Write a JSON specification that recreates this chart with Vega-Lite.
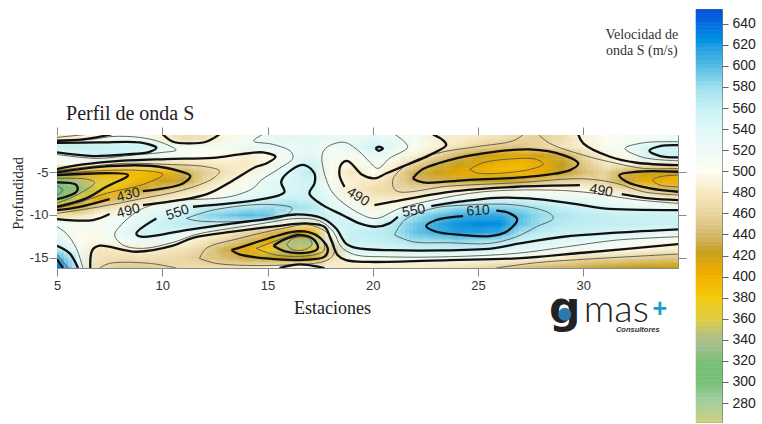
{"$schema":"https://vega.github.io/schema/vega-lite/v6.json","padding":{"left":9,"top":8,"right":5,"bottom":5},"background":"white","config":{"view":{"stroke":null},"concat":{"spacing":8}},
"datasets":{
"grid":[
{"x":5,"y":-1,"v":480},{"x":6,"y":-1,"v":485},{"x":7,"y":-1,"v":495},{"x":8,"y":-1,"v":510},{"x":9,"y":-1,"v":515},{"x":10,"y":-1,"v":490},{"x":11,"y":-1,"v":470},{"x":12,"y":-1,"v":475},{"x":13,"y":-1,"v":495},{"x":14,"y":-1,"v":510},{"x":15,"y":-1,"v":530},{"x":16,"y":-1,"v":535},{"x":17,"y":-1,"v":535},{"x":18,"y":-1,"v":530},{"x":19,"y":-1,"v":525},{"x":20,"y":-1,"v":530},{"x":21,"y":-1,"v":525},{"x":22,"y":-1,"v":510},{"x":23,"y":-1,"v":488},{"x":24,"y":-1,"v":485},{"x":25,"y":-1,"v":480},{"x":26,"y":-1,"v":475},{"x":27,"y":-1,"v":462},{"x":28,"y":-1,"v":458},{"x":29,"y":-1,"v":470},{"x":30,"y":-1,"v":490},{"x":31,"y":-1,"v":500},{"x":32,"y":-1,"v":505},{"x":33,"y":-1,"v":510},{"x":34,"y":-1,"v":515},
{"x":5,"y":-2,"v":560},{"x":6,"y":-2,"v":562},{"x":7,"y":-2,"v":560},{"x":8,"y":-2,"v":558},{"x":9,"y":-2,"v":555},{"x":10,"y":-2,"v":530},{"x":11,"y":-2,"v":508},{"x":12,"y":-2,"v":510},{"x":13,"y":-2,"v":515},{"x":14,"y":-2,"v":525},{"x":15,"y":-2,"v":530},{"x":16,"y":-2,"v":525},{"x":17,"y":-2,"v":530},{"x":18,"y":-2,"v":510},{"x":19,"y":-2,"v":530},{"x":20,"y":-2,"v":552},{"x":21,"y":-2,"v":530},{"x":22,"y":-2,"v":505},{"x":23,"y":-2,"v":492},{"x":24,"y":-2,"v":475},{"x":25,"y":-2,"v":460},{"x":26,"y":-2,"v":452},{"x":27,"y":-2,"v":450},{"x":28,"y":-2,"v":462},{"x":29,"y":-2,"v":478},{"x":30,"y":-2,"v":488},{"x":31,"y":-2,"v":505},{"x":32,"y":-2,"v":518},{"x":33,"y":-2,"v":545},{"x":34,"y":-2,"v":552},
{"x":5,"y":-3,"v":518},{"x":6,"y":-3,"v":535},{"x":7,"y":-3,"v":555},{"x":8,"y":-3,"v":548},{"x":9,"y":-3,"v":530},{"x":10,"y":-3,"v":518},{"x":11,"y":-3,"v":505},{"x":12,"y":-3,"v":500},{"x":13,"y":-3,"v":498},{"x":14,"y":-3,"v":488},{"x":15,"y":-3,"v":505},{"x":16,"y":-3,"v":520},{"x":17,"y":-3,"v":535},{"x":18,"y":-3,"v":508},{"x":19,"y":-3,"v":505},{"x":20,"y":-3,"v":525},{"x":21,"y":-3,"v":510},{"x":22,"y":-3,"v":490},{"x":23,"y":-3,"v":462},{"x":24,"y":-3,"v":440},{"x":25,"y":-3,"v":426},{"x":26,"y":-3,"v":418},{"x":27,"y":-3,"v":412},{"x":28,"y":-3,"v":420},{"x":29,"y":-3,"v":432},{"x":30,"y":-3,"v":465},{"x":31,"y":-3,"v":490},{"x":32,"y":-3,"v":505},{"x":33,"y":-3,"v":548},{"x":34,"y":-3,"v":556},
{"x":5,"y":-4,"v":505},{"x":6,"y":-4,"v":500},{"x":7,"y":-4,"v":488},{"x":8,"y":-4,"v":478},{"x":9,"y":-4,"v":474},{"x":10,"y":-4,"v":472},{"x":11,"y":-4,"v":474},{"x":12,"y":-4,"v":478},{"x":13,"y":-4,"v":484},{"x":14,"y":-4,"v":482},{"x":15,"y":-4,"v":493},{"x":16,"y":-4,"v":530},{"x":17,"y":-4,"v":556},{"x":18,"y":-4,"v":505},{"x":19,"y":-4,"v":495},{"x":20,"y":-4,"v":510},{"x":21,"y":-4,"v":492},{"x":22,"y":-4,"v":460},{"x":23,"y":-4,"v":436},{"x":24,"y":-4,"v":424},{"x":25,"y":-4,"v":412},{"x":26,"y":-4,"v":400},{"x":27,"y":-4,"v":395},{"x":28,"y":-4,"v":405},{"x":29,"y":-4,"v":425},{"x":30,"y":-4,"v":452},{"x":31,"y":-4,"v":478},{"x":32,"y":-4,"v":490},{"x":33,"y":-4,"v":492},{"x":34,"y":-4,"v":488},
{"x":5,"y":-5,"v":425},{"x":6,"y":-5,"v":410},{"x":7,"y":-5,"v":402},{"x":8,"y":-5,"v":395},{"x":9,"y":-5,"v":392},{"x":10,"y":-5,"v":398},{"x":11,"y":-5,"v":435},{"x":12,"y":-5,"v":455},{"x":13,"y":-5,"v":475},{"x":14,"y":-5,"v":490},{"x":15,"y":-5,"v":520},{"x":16,"y":-5,"v":540},{"x":17,"y":-5,"v":565},{"x":18,"y":-5,"v":500},{"x":19,"y":-5,"v":478},{"x":20,"y":-5,"v":500},{"x":21,"y":-5,"v":475},{"x":22,"y":-5,"v":435},{"x":23,"y":-5,"v":422},{"x":24,"y":-5,"v":410},{"x":25,"y":-5,"v":400},{"x":26,"y":-5,"v":392},{"x":27,"y":-5,"v":395},{"x":28,"y":-5,"v":410},{"x":29,"y":-5,"v":425},{"x":30,"y":-5,"v":445},{"x":31,"y":-5,"v":460},{"x":32,"y":-5,"v":435},{"x":33,"y":-5,"v":425},{"x":34,"y":-5,"v":420},
{"x":5,"y":-6,"v":325},{"x":6,"y":-6,"v":345},{"x":7,"y":-6,"v":360},{"x":8,"y":-6,"v":372},{"x":9,"y":-6,"v":398},{"x":10,"y":-6,"v":422},{"x":11,"y":-6,"v":428},{"x":12,"y":-6,"v":465},{"x":13,"y":-6,"v":487},{"x":14,"y":-6,"v":505},{"x":15,"y":-6,"v":530},{"x":16,"y":-6,"v":545},{"x":17,"y":-6,"v":553},{"x":18,"y":-6,"v":505},{"x":19,"y":-6,"v":488},{"x":20,"y":-6,"v":482},{"x":21,"y":-6,"v":462},{"x":22,"y":-6,"v":440},{"x":23,"y":-6,"v":438},{"x":24,"y":-6,"v":432},{"x":25,"y":-6,"v":428},{"x":26,"y":-6,"v":425},{"x":27,"y":-6,"v":430},{"x":28,"y":-6,"v":445},{"x":29,"y":-6,"v":458},{"x":30,"y":-6,"v":465},{"x":31,"y":-6,"v":458},{"x":32,"y":-6,"v":430},{"x":33,"y":-6,"v":405},{"x":34,"y":-6,"v":400},
{"x":5,"y":-7,"v":300},{"x":6,"y":-7,"v":328},{"x":7,"y":-7,"v":372},{"x":8,"y":-7,"v":398},{"x":9,"y":-7,"v":428},{"x":10,"y":-7,"v":448},{"x":11,"y":-7,"v":465},{"x":12,"y":-7,"v":484},{"x":13,"y":-7,"v":505},{"x":14,"y":-7,"v":522},{"x":15,"y":-7,"v":535},{"x":16,"y":-7,"v":545},{"x":17,"y":-7,"v":556},{"x":18,"y":-7,"v":516},{"x":19,"y":-7,"v":486},{"x":20,"y":-7,"v":470},{"x":21,"y":-7,"v":462},{"x":22,"y":-7,"v":466},{"x":23,"y":-7,"v":476},{"x":24,"y":-7,"v":486},{"x":25,"y":-7,"v":491},{"x":26,"y":-7,"v":494},{"x":27,"y":-7,"v":497},{"x":28,"y":-7,"v":499},{"x":29,"y":-7,"v":498},{"x":30,"y":-7,"v":496},{"x":31,"y":-7,"v":488},{"x":32,"y":-7,"v":472},{"x":33,"y":-7,"v":454},{"x":34,"y":-7,"v":440},
{"x":5,"y":-8,"v":305},{"x":6,"y":-8,"v":358},{"x":7,"y":-8,"v":412},{"x":8,"y":-8,"v":440},{"x":9,"y":-8,"v":462},{"x":10,"y":-8,"v":478},{"x":11,"y":-8,"v":490},{"x":12,"y":-8,"v":500},{"x":13,"y":-8,"v":520},{"x":14,"y":-8,"v":540},{"x":15,"y":-8,"v":548},{"x":16,"y":-8,"v":556},{"x":17,"y":-8,"v":555},{"x":18,"y":-8,"v":530},{"x":19,"y":-8,"v":497},{"x":20,"y":-8,"v":482},{"x":21,"y":-8,"v":482},{"x":22,"y":-8,"v":490},{"x":23,"y":-8,"v":512},{"x":24,"y":-8,"v":520},{"x":25,"y":-8,"v":527},{"x":26,"y":-8,"v":529},{"x":27,"y":-8,"v":532},{"x":28,"y":-8,"v":532},{"x":29,"y":-8,"v":530},{"x":30,"y":-8,"v":527},{"x":31,"y":-8,"v":521},{"x":32,"y":-8,"v":512},{"x":33,"y":-8,"v":500},{"x":34,"y":-8,"v":482},
{"x":5,"y":-9,"v":372},{"x":6,"y":-9,"v":428},{"x":7,"y":-9,"v":460},{"x":8,"y":-9,"v":482},{"x":9,"y":-9,"v":495},{"x":10,"y":-9,"v":524},{"x":11,"y":-9,"v":540},{"x":12,"y":-9,"v":555},{"x":13,"y":-9,"v":560},{"x":14,"y":-9,"v":568},{"x":15,"y":-9,"v":578},{"x":16,"y":-9,"v":582},{"x":17,"y":-9,"v":572},{"x":18,"y":-9,"v":540},{"x":19,"y":-9,"v":515},{"x":20,"y":-9,"v":492},{"x":21,"y":-9,"v":498},{"x":22,"y":-9,"v":520},{"x":23,"y":-9,"v":552},{"x":24,"y":-9,"v":578},{"x":25,"y":-9,"v":582},{"x":26,"y":-9,"v":584},{"x":27,"y":-9,"v":580},{"x":28,"y":-9,"v":570},{"x":29,"y":-9,"v":558},{"x":30,"y":-9,"v":552},{"x":31,"y":-9,"v":544},{"x":32,"y":-9,"v":536},{"x":33,"y":-9,"v":530},{"x":34,"y":-9,"v":525},
{"x":5,"y":-10,"v":470},{"x":6,"y":-10,"v":478},{"x":7,"y":-10,"v":495},{"x":8,"y":-10,"v":512},{"x":9,"y":-10,"v":530},{"x":10,"y":-10,"v":546},{"x":11,"y":-10,"v":556},{"x":12,"y":-10,"v":582},{"x":13,"y":-10,"v":592},{"x":14,"y":-10,"v":600},{"x":15,"y":-10,"v":595},{"x":16,"y":-10,"v":552},{"x":17,"y":-10,"v":556},{"x":18,"y":-10,"v":556},{"x":19,"y":-10,"v":525},{"x":20,"y":-10,"v":510},{"x":21,"y":-10,"v":540},{"x":22,"y":-10,"v":576},{"x":23,"y":-10,"v":595},{"x":24,"y":-10,"v":608},{"x":25,"y":-10,"v":611},{"x":26,"y":-10,"v":610},{"x":27,"y":-10,"v":598},{"x":28,"y":-10,"v":582},{"x":29,"y":-10,"v":572},{"x":30,"y":-10,"v":566},{"x":31,"y":-10,"v":562},{"x":32,"y":-10,"v":560},{"x":33,"y":-10,"v":558},{"x":34,"y":-10,"v":556},
{"x":5,"y":-11,"v":512},{"x":6,"y":-11,"v":510},{"x":7,"y":-11,"v":506},{"x":8,"y":-11,"v":520},{"x":9,"y":-11,"v":540},{"x":10,"y":-11,"v":558},{"x":11,"y":-11,"v":566},{"x":12,"y":-11,"v":566},{"x":13,"y":-11,"v":552},{"x":14,"y":-11,"v":525},{"x":15,"y":-11,"v":505},{"x":16,"y":-11,"v":488},{"x":17,"y":-11,"v":478},{"x":18,"y":-11,"v":553},{"x":19,"y":-11,"v":556},{"x":20,"y":-11,"v":535},{"x":21,"y":-11,"v":570},{"x":22,"y":-11,"v":592},{"x":23,"y":-11,"v":610},{"x":24,"y":-11,"v":622},{"x":25,"y":-11,"v":628},{"x":26,"y":-11,"v":625},{"x":27,"y":-11,"v":596},{"x":28,"y":-11,"v":578},{"x":29,"y":-11,"v":568},{"x":30,"y":-11,"v":564},{"x":31,"y":-11,"v":563},{"x":32,"y":-11,"v":562},{"x":33,"y":-11,"v":560},{"x":34,"y":-11,"v":558},
{"x":5,"y":-12,"v":530},{"x":6,"y":-12,"v":505},{"x":7,"y":-12,"v":505},{"x":8,"y":-12,"v":527},{"x":9,"y":-12,"v":552},{"x":10,"y":-12,"v":552},{"x":11,"y":-12,"v":535},{"x":12,"y":-12,"v":505},{"x":13,"y":-12,"v":485},{"x":14,"y":-12,"v":465},{"x":15,"y":-12,"v":445},{"x":16,"y":-12,"v":415},{"x":17,"y":-12,"v":405},{"x":18,"y":-12,"v":525},{"x":19,"y":-12,"v":560},{"x":20,"y":-12,"v":565},{"x":21,"y":-12,"v":572},{"x":22,"y":-12,"v":596},{"x":23,"y":-12,"v":608},{"x":24,"y":-12,"v":618},{"x":25,"y":-12,"v":616},{"x":26,"y":-12,"v":610},{"x":27,"y":-12,"v":578},{"x":28,"y":-12,"v":565},{"x":29,"y":-12,"v":560},{"x":30,"y":-12,"v":558},{"x":31,"y":-12,"v":552},{"x":32,"y":-12,"v":546},{"x":33,"y":-12,"v":540},{"x":34,"y":-12,"v":532},
{"x":5,"y":-13,"v":545},{"x":6,"y":-13,"v":500},{"x":7,"y":-13,"v":495},{"x":8,"y":-13,"v":510},{"x":9,"y":-13,"v":525},{"x":10,"y":-13,"v":525},{"x":11,"y":-13,"v":495},{"x":12,"y":-13,"v":478},{"x":13,"y":-13,"v":460},{"x":14,"y":-13,"v":440},{"x":15,"y":-13,"v":410},{"x":16,"y":-13,"v":345},{"x":17,"y":-13,"v":335},{"x":18,"y":-13,"v":490},{"x":19,"y":-13,"v":558},{"x":20,"y":-13,"v":560},{"x":21,"y":-13,"v":565},{"x":22,"y":-13,"v":578},{"x":23,"y":-13,"v":579},{"x":24,"y":-13,"v":584},{"x":25,"y":-13,"v":580},{"x":26,"y":-13,"v":572},{"x":27,"y":-13,"v":556},{"x":28,"y":-13,"v":544},{"x":29,"y":-13,"v":535},{"x":30,"y":-13,"v":530},{"x":31,"y":-13,"v":523},{"x":32,"y":-13,"v":515},{"x":33,"y":-13,"v":508},{"x":34,"y":-13,"v":500},
{"x":5,"y":-14,"v":565},{"x":6,"y":-14,"v":515},{"x":7,"y":-14,"v":478},{"x":8,"y":-14,"v":482},{"x":9,"y":-14,"v":492},{"x":10,"y":-14,"v":482},{"x":11,"y":-14,"v":475},{"x":12,"y":-14,"v":460},{"x":13,"y":-14,"v":433},{"x":14,"y":-14,"v":410},{"x":15,"y":-14,"v":375},{"x":16,"y":-14,"v":345},{"x":17,"y":-14,"v":360},{"x":18,"y":-14,"v":455},{"x":19,"y":-14,"v":545},{"x":20,"y":-14,"v":546},{"x":21,"y":-14,"v":546},{"x":22,"y":-14,"v":548},{"x":23,"y":-14,"v":550},{"x":24,"y":-14,"v":550},{"x":25,"y":-14,"v":551},{"x":26,"y":-14,"v":540},{"x":27,"y":-14,"v":532},{"x":28,"y":-14,"v":527},{"x":29,"y":-14,"v":518},{"x":30,"y":-14,"v":510},{"x":31,"y":-14,"v":505},{"x":32,"y":-14,"v":498},{"x":33,"y":-14,"v":492},{"x":34,"y":-14,"v":485},
{"x":5,"y":-15,"v":605},{"x":6,"y":-15,"v":530},{"x":7,"y":-15,"v":475},{"x":8,"y":-15,"v":470},{"x":9,"y":-15,"v":472},{"x":10,"y":-15,"v":468},{"x":11,"y":-15,"v":462},{"x":12,"y":-15,"v":452},{"x":13,"y":-15,"v":445},{"x":14,"y":-15,"v":432},{"x":15,"y":-15,"v":428},{"x":16,"y":-15,"v":425},{"x":17,"y":-15,"v":425},{"x":18,"y":-15,"v":470},{"x":19,"y":-15,"v":505},{"x":20,"y":-15,"v":510},{"x":21,"y":-15,"v":512},{"x":22,"y":-15,"v":514},{"x":23,"y":-15,"v":510},{"x":24,"y":-15,"v":510},{"x":25,"y":-15,"v":512},{"x":26,"y":-15,"v":505},{"x":27,"y":-15,"v":498},{"x":28,"y":-15,"v":492},{"x":29,"y":-15,"v":485},{"x":30,"y":-15,"v":468},{"x":31,"y":-15,"v":465},{"x":32,"y":-15,"v":460},{"x":33,"y":-15,"v":455},{"x":34,"y":-15,"v":450},
{"x":5,"y":-16,"v":635},{"x":6,"y":-16,"v":540},{"x":7,"y":-16,"v":470},{"x":8,"y":-16,"v":455},{"x":9,"y":-16,"v":455},{"x":10,"y":-16,"v":460},{"x":11,"y":-16,"v":468},{"x":12,"y":-16,"v":468},{"x":13,"y":-16,"v":470},{"x":14,"y":-16,"v":475},{"x":15,"y":-16,"v":485},{"x":16,"y":-16,"v":492},{"x":17,"y":-16,"v":492},{"x":18,"y":-16,"v":485},{"x":19,"y":-16,"v":482},{"x":20,"y":-16,"v":488},{"x":21,"y":-16,"v":488},{"x":22,"y":-16,"v":486},{"x":23,"y":-16,"v":482},{"x":24,"y":-16,"v":478},{"x":25,"y":-16,"v":470},{"x":26,"y":-16,"v":458},{"x":27,"y":-16,"v":452},{"x":28,"y":-16,"v":445},{"x":29,"y":-16,"v":440},{"x":30,"y":-16,"v":435},{"x":31,"y":-16,"v":430},{"x":32,"y":-16,"v":428},{"x":33,"y":-16,"v":425},{"x":34,"y":-16,"v":420}
],
"thick":[
{"c":"a","x":5,"y":-1.34},{"c":"a","x":6.23,"y":-1.19},{"c":"a","x":7.58,"y":-0.6},
{"c":"b","x":5,"y":-1.6},{"c":"b","x":7.02,"y":-1.54},{"c":"b","x":8.92,"y":-1.54},{"c":"b","x":9.72,"y":-2.16},{"c":"b","x":9.4,"y":-2.63},{"c":"b","x":8.29,"y":-2.94},{"c":"b","x":6.71,"y":-3.13},{"c":"b","x":5,"y":-2.7},
{"c":"d","x":10.03,"y":-0.6},{"c":"d","x":10.51,"y":-1.46},{"c":"d","x":11.3,"y":-1.65},{"c":"d","x":12.09,"y":-1.46},{"c":"d","x":12.72,"y":-0.6},
{"c":"e1","x":5,"y":-4.65},{"c":"e1","x":6.23,"y":-4.11},{"c":"e1","x":7.82,"y":-3.72},{"c":"e1","x":10.19,"y":-3.48},{"c":"e1","x":12.41,"y":-3.33},{"c":"e1","x":13.67,"y":-2.94},{"c":"e1","x":14.78,"y":-2.7},{"c":"e1","x":15.38,"y":-3.21},{"c":"e1","x":14.94,"y":-3.99},{"c":"e1","x":14.46,"y":-4.38},{"c":"e1","x":13.2,"y":-6.21},{"c":"e1","x":12.09,"y":-7.61},{"c":"e1","x":9.08,"y":-8.85},
{"c":"e2","x":7.5,"y":-9.9},{"c":"e2","x":6.71,"y":-10.6},{"c":"e2","x":5,"y":-10.49},
{"c":"f1","x":5,"y":-5.04},{"c":"f1","x":7.03,"y":-4.38},{"c":"f1","x":9.4,"y":-4.26},{"c":"f1","x":10.82,"y":-4.88},{"c":"f1","x":11.33,"y":-5.43},{"c":"f1","x":10.98,"y":-6.32},{"c":"f1","x":9.08,"y":-7.22},
{"c":"f2","x":7.5,"y":-8.15},{"c":"f2","x":6.08,"y":-9.05},{"c":"f2","x":5,"y":-9.44},
{"c":"g","x":5,"y":-5.35},{"c":"g","x":8.37,"y":-5.35},{"c":"g","x":7.34,"y":-6.71},{"c":"g","x":6.39,"y":-8.07},{"c":"g","x":5,"y":-9.05},
{"c":"h","x":5,"y":-6.21},{"c":"h","x":5.92,"y":-6.52},{"c":"h","x":5.95,"y":-7.22},{"c":"h","x":5.44,"y":-7.88},{"c":"h","x":5,"y":-8.15},
{"c":"i1","x":34.52,"y":-9.44},{"c":"i1","x":30.95,"y":-9.24},{"c":"i1","x":29.68,"y":-8.74},{"c":"i1","x":27.78,"y":-8.15},{"c":"i1","x":25.87,"y":-8},{"c":"i1","x":24.13,"y":-8.46},{"c":"i1","x":22.78,"y":-8.97},
{"c":"i2","x":21.19,"y":-10.21},{"c":"i2","x":20.79,"y":-10.99},{"c":"i2","x":20.16,"y":-11.38},{"c":"i2","x":19.37,"y":-10.99},{"c":"i2","x":18.58,"y":-10.03},{"c":"i2","x":17.63,"y":-8.86},{"c":"i2","x":16.99,"y":-7.5},{"c":"i2","x":17.23,"y":-6.33},{"c":"i2","x":17.23,"y":-5.16},{"c":"i2","x":16.76,"y":-4.18},{"c":"i2","x":16.12,"y":-4.77},{"c":"i2","x":15.65,"y":-6.13},{"c":"i2","x":15.81,"y":-7.3},{"c":"i2","x":15.57,"y":-7.69},{"c":"i2","x":14.46,"y":-8.27},{"c":"i2","x":13.2,"y":-8.66},{"c":"i2","x":11.46,"y":-9.05},
{"c":"i3","x":9.72,"y":-10.41},{"c":"i3","x":8.77,"y":-12.16},{"c":"i3","x":9,"y":-12.55},{"c":"i3","x":11.14,"y":-11.77},{"c":"i3","x":13.35,"y":-10.99},{"c":"i3","x":14.78,"y":-10.54},{"c":"i3","x":16.36,"y":-9.95},{"c":"i3","x":17.63,"y":-10.42},{"c":"i3","x":18.26,"y":-11.59},{"c":"i3","x":18.73,"y":-13.34},{"c":"i3","x":19.21,"y":-13.85},{"c":"i3","x":20.79,"y":-14.12},{"c":"i3","x":25.71,"y":-13.91},{"c":"i3","x":26.98,"y":-13.33},{"c":"i3","x":29.05,"y":-12.55},{"c":"i3","x":31.59,"y":-12.08},{"c":"i3","x":34.52,"y":-11.69},
{"c":"j","x":6.58,"y":-16.2},{"c":"j","x":6.68,"y":-14.1},{"c":"j","x":7.03,"y":-13.6},{"c":"j","x":8.77,"y":-14.3},{"c":"j","x":10.51,"y":-13.6},{"c":"j","x":11.46,"y":-12.67},{"c":"j","x":13.35,"y":-11.96},{"c":"j","x":15.25,"y":-11.38},{"c":"j","x":16.84,"y":-11},{"c":"j","x":17.71,"y":-11.39},{"c":"j","x":18.02,"y":-12.95},{"c":"j","x":18.34,"y":-14.71},{"c":"j","x":18.73,"y":-15.29},{"c":"j","x":19.84,"y":-15.49},{"c":"j","x":23.65,"y":-15.27},{"c":"j","x":26.83,"y":-15.08},{"c":"j","x":30,"y":-14.42},{"c":"j","x":34.52,"y":-13.4},
{"c":"k","x":13.28,"y":-14.11},{"c":"k","x":14.3,"y":-13.33},{"c":"k","x":15.57,"y":-12.35},{"c":"k","x":16.52,"y":-11.89},{"c":"k","x":17.31,"y":-12.35},{"c":"k","x":17.86,"y":-13.91},{"c":"k","x":17.71,"y":-14.88},{"c":"k","x":16.52,"y":-15.27},{"c":"k","x":14.94,"y":-15.08},{"c":"k","x":13.67,"y":-14.61},{"c":"k","x":13.28,"y":-14.11},
{"c":"l","x":15.28,"y":-13.6},{"c":"l","x":15.73,"y":-12.94},{"c":"l","x":16.6,"y":-12.35},{"c":"l","x":17.23,"y":-12.94},{"c":"l","x":17.39,"y":-13.91},{"c":"l","x":16.99,"y":-14.38},{"c":"l","x":15.89,"y":-14.3},{"c":"l","x":15.28,"y":-13.6},
{"c":"m","x":15.57,"y":-16.2},{"c":"m","x":16.52,"y":-15.78},{"c":"m","x":17.71,"y":-16.2},
{"c":"n","x":5,"y":-13.6},{"c":"n","x":5.6,"y":-14.49},{"c":"n","x":6,"y":-16.2},
{"c":"o","x":5,"y":-15.16},{"c":"o","x":5.28,"y":-16.2},
{"c":"p1","x":22.86,"y":-0.6},{"c":"p1","x":23.33,"y":-1.26},{"c":"p1","x":23.49,"y":-1.85},{"c":"p1","x":22.7,"y":-3.02},{"c":"p1","x":21.59,"y":-4.18},{"c":"p1","x":20.63,"y":-5.16},{"c":"p1","x":20.08,"y":-5.74},{"c":"p1","x":19.52,"y":-5.35},{"c":"p1","x":18.81,"y":-3.71},{"c":"p1","x":18.5,"y":-4.1},{"c":"p1","x":18.42,"y":-5.35},{"c":"p1","x":18.66,"y":-6.72},
{"c":"p2","x":20.08,"y":-8.86},{"c":"p2","x":20.95,"y":-8.46},{"c":"p2","x":23.65,"y":-7.3},{"c":"p2","x":26.83,"y":-6.71},{"c":"p2","x":29.84,"y":-6.52},
{"c":"p3","x":31.83,"y":-7.57},{"c":"p3","x":33.17,"y":-8.07},{"c":"p3","x":34.52,"y":-8.27},
{"c":"q","x":21.9,"y":-5.74},{"c":"q","x":22.3,"y":-4.77},{"c":"q","x":23.65,"y":-3.6},{"c":"q","x":25.24,"y":-2.82},{"c":"q","x":27.46,"y":-2.35},{"c":"q","x":29.05,"y":-3.02},{"c":"q","x":29.76,"y":-3.99},{"c":"q","x":29.37,"y":-4.77},{"c":"q","x":27.46,"y":-5.54},{"c":"q","x":24.44,"y":-5.93},{"c":"q","x":22.38,"y":-6.21},{"c":"q","x":21.9,"y":-5.74},
{"c":"r","x":29.76,"y":-0.6},{"c":"r","x":30,"y":-1.65},{"c":"r","x":31.27,"y":-3.21},{"c":"r","x":32.54,"y":-3.91},{"c":"r","x":34.52,"y":-4.18},
{"c":"u","x":34.52,"y":-4.96},{"c":"u","x":32.54,"y":-4.96},{"c":"u","x":31.71,"y":-5.35},{"c":"u","x":32.06,"y":-6.13},{"c":"u","x":33.17,"y":-6.91},{"c":"u","x":34.52,"y":-7.3},
{"c":"v","x":34.52,"y":-1.85},{"c":"v","x":33.65,"y":-1.96},{"c":"v","x":33.14,"y":-2.51},{"c":"v","x":33.65,"y":-3.13},{"c":"v","x":34.52,"y":-3.29},
{"c":"w","x":20.13,"y":-2.24},{"c":"w","x":20.29,"y":-2.04},{"c":"w","x":20.48,"y":-2.24},{"c":"w","x":20.29,"y":-2.51},{"c":"w","x":20.13,"y":-2.24},
{"c":"x1","x":24.29,"y":-10.14},{"c":"x1","x":23.02,"y":-10.6},{"c":"x1","x":22.54,"y":-11.3},{"c":"x1","x":23.02,"y":-11.97},{"c":"x1","x":24.29,"y":-12.35},{"c":"x1","x":25.56,"y":-12.47},{"c":"x1","x":26.35,"y":-11.96},{"c":"x1","x":26.86,"y":-10.53},{"c":"x1","x":26.51,"y":-9.82},{"c":"x1","x":25.87,"y":-9.51}
],
"thin":[
{"c":"T1","x":5,"y":-0.95},{"c":"T1","x":6.4,"y":-0.6},
{"c":"T2","x":5,"y":-1.46},{"c":"T2","x":6.71,"y":-1.15},{"c":"T2","x":7.66,"y":-0.84},{"c":"T2","x":8.92,"y":-0.95},{"c":"T2","x":9.87,"y":-1.46},{"c":"T2","x":10.66,"y":-2.43},{"c":"T2","x":10.03,"y":-2.7},{"c":"T2","x":8.61,"y":-3.01},{"c":"T2","x":6.87,"y":-3.4},{"c":"T2","x":5,"y":-2.94},
{"c":"T3","x":5,"y":-4.84},{"c":"T3","x":8.13,"y":-3.99},{"c":"T3","x":10.19,"y":-4.1},{"c":"T3","x":12.09,"y":-4.38},{"c":"T3","x":12.72,"y":-4.88},{"c":"T3","x":12.41,"y":-5.74},{"c":"T3","x":10.98,"y":-7.1},{"c":"T3","x":9.08,"y":-8.07},{"c":"T3","x":7.03,"y":-9.05},{"c":"T3","x":5,"y":-9.82},
{"c":"T4","x":5,"y":-5.16},{"c":"T4","x":8.61,"y":-4.77},{"c":"T4","x":10.03,"y":-5.27},{"c":"T4","x":9.24,"y":-6.32},{"c":"T4","x":7.34,"y":-7.49},{"c":"T4","x":5.92,"y":-8.66},{"c":"T4","x":5,"y":-9.24},
{"c":"T5","x":5,"y":-5.74},{"c":"T5","x":6.39,"y":-5.82},{"c":"T5","x":6.79,"y":-6.21},{"c":"T5","x":6.08,"y":-7.49},{"c":"T5","x":5,"y":-8.66},
{"c":"T6","x":5,"y":-6.6},{"c":"T6","x":5.28,"y":-7.1},{"c":"T6","x":5,"y":-7.68},
{"c":"T7","x":14.78,"y":-0.6},{"c":"T7","x":14.34,"y":-1.37},{"c":"T7","x":15.25,"y":-1.76},{"c":"T7","x":16.12,"y":-2.62},{"c":"T7","x":16.2,"y":-3.4},{"c":"T7","x":15.57,"y":-4.57},{"c":"T7","x":14.7,"y":-5.94},{"c":"T7","x":14.3,"y":-6.91},{"c":"T7","x":13.2,"y":-7.88},{"c":"T7","x":10.19,"y":-8.46},{"c":"T7","x":8.92,"y":-9.44},{"c":"T7","x":7.97,"y":-11.38},{"c":"T7","x":7.74,"y":-12.35},{"c":"T7","x":8.13,"y":-13.52},{"c":"T7","x":9.08,"y":-13.91},{"c":"T7","x":10.51,"y":-13.21},{"c":"T7","x":11.61,"y":-12.28},{"c":"T7","x":13.2,"y":-11.59},{"c":"T7","x":14.78,"y":-11},{"c":"T7","x":16.36,"y":-10.42},{"c":"T7","x":17.47,"y":-10.69},{"c":"T7","x":18.13,"y":-11.98},{"c":"T7","x":18.5,"y":-13.73},{"c":"T7","x":19.13,"y":-14.63},{"c":"T7","x":20.79,"y":-14.9},{"c":"T7","x":23.65,"y":-14.88},{"c":"T7","x":26.83,"y":-14.49},{"c":"T7","x":29.21,"y":-13.72},{"c":"T7","x":31.59,"y":-12.94},{"c":"T7","x":34.52,"y":-12.55},
{"c":"T8","x":21.05,"y":-0.6},{"c":"T8","x":21.66,"y":-2.04},{"c":"T8","x":20.79,"y":-3.4},{"c":"T8","x":20.24,"y":-4.57},{"c":"T8","x":19.84,"y":-3.79},{"c":"T8","x":19.37,"y":-2.62},{"c":"T8","x":18.66,"y":-1.53},{"c":"T8","x":17.86,"y":-2.04},{"c":"T8","x":17.59,"y":-3.01},{"c":"T8","x":17.86,"y":-6.33},{"c":"T8","x":18.26,"y":-7.88},{"c":"T8","x":19.37,"y":-9.83},{"c":"T8","x":20.16,"y":-10.42},{"c":"T8","x":21.27,"y":-9.25},{"c":"T8","x":22.86,"y":-8.27},{"c":"T8","x":25.24,"y":-7.3},{"c":"T8","x":28.41,"y":-7.1},{"c":"T8","x":30.32,"y":-7.41},{"c":"T8","x":32.38,"y":-8.19},{"c":"T8","x":34.52,"y":-8.66},
{"c":"T9","x":27.17,"y":-0.6},{"c":"T9","x":26.67,"y":-1.34},{"c":"T9","x":24.92,"y":-2.04},{"c":"T9","x":23.02,"y":-2.82},{"c":"T9","x":21.59,"y":-4.18},{"c":"T9","x":20.95,"y":-5.93},{"c":"T9","x":21.11,"y":-7.18},{"c":"T9","x":23.65,"y":-6.63},{"c":"T9","x":26.83,"y":-6.25},{"c":"T9","x":30,"y":-5.78},{"c":"T9","x":31.59,"y":-6.32},{"c":"T9","x":32.86,"y":-7.3},{"c":"T9","x":34.52,"y":-7.68},
{"c":"T10","x":27.86,"y":-0.6},{"c":"T10","x":28.41,"y":-1.65},{"c":"T10","x":30,"y":-3.02},{"c":"T10","x":31.59,"y":-3.99},{"c":"T10","x":32.86,"y":-4.57},{"c":"T10","x":34.52,"y":-4.57},
{"c":"T11","x":24.6,"y":-4.69},{"c":"T11","x":25.24,"y":-3.91},{"c":"T11","x":26.51,"y":-3.48},{"c":"T11","x":27.78,"y":-3.52},{"c":"T11","x":28.1,"y":-4.07},{"c":"T11","x":27.46,"y":-4.69},{"c":"T11","x":25.87,"y":-5.16},{"c":"T11","x":24.92,"y":-5.08},{"c":"T11","x":24.6,"y":-4.69},
{"c":"T12","x":34.52,"y":-5.35},{"c":"T12","x":33.65,"y":-5.54},{"c":"T12","x":33.3,"y":-5.93},{"c":"T12","x":33.65,"y":-6.52},{"c":"T12","x":34.52,"y":-6.71},
{"c":"T13","x":34.52,"y":-1.46},{"c":"T13","x":32.86,"y":-1.58},{"c":"T13","x":31.98,"y":-2.24},{"c":"T13","x":32.86,"y":-3.29},{"c":"T13","x":34.52,"y":-3.68},
{"c":"T14","x":21.03,"y":-12.35},{"c":"T14","x":21.51,"y":-10.6},{"c":"T14","x":22.86,"y":-9.24},{"c":"T14","x":24.44,"y":-8.85},{"c":"T14","x":26.83,"y":-8.85},{"c":"T14","x":28.41,"y":-9.82},{"c":"T14","x":28.57,"y":-10.41},{"c":"T14","x":27.78,"y":-11.38},{"c":"T14","x":26.83,"y":-12.55},{"c":"T14","x":25.56,"y":-13.33},{"c":"T14","x":23.65,"y":-13.25},{"c":"T14","x":21.9,"y":-13.13},{"c":"T14","x":21.03,"y":-12.35},
{"c":"T15","x":11.14,"y":-10.41},{"c":"T15","x":12.41,"y":-9.44},{"c":"T15","x":14.94,"y":-8.77},{"c":"T15","x":16.17,"y":-9.24},{"c":"T15","x":15.73,"y":-10.21},{"c":"T15","x":14.15,"y":-10.72},{"c":"T15","x":11.77,"y":-10.72},{"c":"T15","x":11.14,"y":-10.41},
{"c":"T16","x":11.77,"y":-15.08},{"c":"T16","x":12.09,"y":-13.91},{"c":"T16","x":13.67,"y":-12.74},{"c":"T16","x":15.73,"y":-11.58},{"c":"T16","x":16.99,"y":-11.17},{"c":"T16","x":17.94,"y":-12.35},{"c":"T16","x":18.18,"y":-14.3},{"c":"T16","x":17.86,"y":-15.27},{"c":"T16","x":15.73,"y":-15.86},{"c":"T16","x":12.56,"y":-15.66},{"c":"T16","x":11.77,"y":-15.08},
{"c":"T17","x":14.46,"y":-13.91},{"c":"T17","x":15.73,"y":-12.74},{"c":"T17","x":16.84,"y":-11.97},{"c":"T17","x":17.55,"y":-12.74},{"c":"T17","x":17.7,"y":-14.1},{"c":"T17","x":17.15,"y":-14.69},{"c":"T17","x":15.41,"y":-14.69},{"c":"T17","x":14.46,"y":-13.91},
{"c":"T18","x":15.92,"y":-13.44},{"c":"T18","x":16.2,"y":-12.74},{"c":"T18","x":16.91,"y":-12.67},{"c":"T18","x":17.12,"y":-13.44},{"c":"T18","x":16.68,"y":-14.11},{"c":"T18","x":16.12,"y":-13.99},{"c":"T18","x":15.92,"y":-13.44},
{"c":"T19","x":7.03,"y":-16.2},{"c":"T19","x":7.5,"y":-15.66},{"c":"T19","x":9.4,"y":-15.66},{"c":"T19","x":10.66,"y":-16.2},
{"c":"T20","x":25.87,"y":-16.2},{"c":"T20","x":27.78,"y":-15.58},{"c":"T20","x":30,"y":-15.19},{"c":"T20","x":34.52,"y":-14.57},
{"c":"T21","x":5,"y":-11.38},{"c":"T21","x":5.44,"y":-12.16},{"c":"T21","x":5.92,"y":-13.91},{"c":"T21","x":6.23,"y":-16.2},
{"c":"T22","x":5,"y":-14.61},{"c":"T22","x":5.52,"y":-16.2}
],
"labels":[
{"x":8.39,"y":-7.7,"t":"430","a":-15},{"x":8.39,"y":-9.55,"t":"490","a":-15},{"x":10.73,"y":-9.75,"t":"550","a":-18},{"x":19.3,"y":-7.9,"t":"490","a":32},{"x":21.95,"y":-9.55,"t":"550","a":-10},{"x":25,"y":-9.55,"t":"610","a":-4},{"x":30.85,"y":-7.2,"t":"490","a":10}
],
"bar":[{"v":264},{"v":268},{"v":272},{"v":276},{"v":280},{"v":284},{"v":288},{"v":292},{"v":296},{"v":300},{"v":304},{"v":308},{"v":312},{"v":316},{"v":320},{"v":324},{"v":328},{"v":332},{"v":336},{"v":340},{"v":344},{"v":348},{"v":352},{"v":356},{"v":360},{"v":364},{"v":368},{"v":372},{"v":376},{"v":380},{"v":384},{"v":388},{"v":392},{"v":396},{"v":400},{"v":404},{"v":408},{"v":412},{"v":416},{"v":420},{"v":424},{"v":428},{"v":432},{"v":436},{"v":440},{"v":444},{"v":448},{"v":452},{"v":456},{"v":460},{"v":464},{"v":468},{"v":472},{"v":476},{"v":480},{"v":484},{"v":488},{"v":492},{"v":496},{"v":500},{"v":504},{"v":508},{"v":512},{"v":516},{"v":520},{"v":524},{"v":528},{"v":532},{"v":536},{"v":540},{"v":544},{"v":548},{"v":552},{"v":556},{"v":560},{"v":564},{"v":568},{"v":572},{"v":576},{"v":580},{"v":584},{"v":588},{"v":592},{"v":596},{"v":600},{"v":604},{"v":608},{"v":612},{"v":616},{"v":620},{"v":624},{"v":628},{"v":632},{"v":636},{"v":640},{"v":644},{"v":648},{"v":652}]
},
"hconcat":[
{"spacing":0,"vconcat":[
{"width":621,"height":117,"data":{"values":[{"x":5.43,"y":12,"t":"Perfil de onda S","k":"a"},{"x":32.78,"y":91,"t":"Velocidad de","k":"b"},{"x":32.78,"y":75,"t":"onda S (m/s)","k":"b"}]},
"layer":[
{"transform":[{"filter":"datum.k=='a'"}],"mark":{"type":"text","font":"Liberation Serif","fontSize":20,"align":"left","color":"#222"},"encoding":{"x":{"field":"x","type":"quantitative","scale":{"domain":[5,34.5],"nice":false,"zero":false},"axis":null},"y":{"field":"y","type":"quantitative","scale":{"domain":[0,117],"nice":false},"axis":null},"text":{"field":"t"}}},
{"transform":[{"filter":"datum.k=='b'"}],"mark":{"type":"text","font":"Liberation Serif","fontSize":14,"align":"center","color":"#333"},"encoding":{"x":{"field":"x","type":"quantitative","scale":{"domain":[5,34.5],"nice":false,"zero":false},"axis":null},"y":{"field":"y","type":"quantitative","scale":{"domain":[0,117],"nice":false},"axis":null},"text":{"field":"t"}}}
]},
{"width":621,"height":133,"view":{"stroke":"#888"},
"resolve":{"axis":{"x":"independent","y":"independent"}},
"layer":[
{"data":{"name":"grid"},
"encoding":{"x":{"field":"x","type":"quantitative","bin":{"step":1,"extent":[4.5,35.5],"nice":false},"scale":{"domain":[5,34.5],"nice":false,"zero":false},"axis":null},
"y":{"field":"y","type":"quantitative","bin":{"step":1,"extent":[-16.5,-0.5],"nice":false},"scale":{"domain":[-16.2,-0.67],"nice":false,"zero":false},"axis":null},
"color":{"field":"v","type":"quantitative","legend":null,"scale":{"domain":[262,285,300,320,335,345,360,380,395,410,425,440,460,480,500,520,540,560,580,600,620,640,654],"range":["#d0d080","#a0cca0","#78c078","#78c078","#a0c090","#b8c080","#e0cc40","#f0cc10","#f5b800","#e8a800","#c4a020","#d4b86a","#e8d5a0","#f8e8c0","#fffdf0","#f0fbf8","#e0f8f8","#c8f2f5","#a0e0ee","#55bde3","#1e9be0","#0a6ee0","#0b4fd6"]}}},
"layer":[
{"mark":{"type":"rect","clip":true,"binSpacing":0}},
{"mark":{"type":"rect","clip":true,"binSpacing":0,"opacity":0.5,"xOffset":-8.4,"x2Offset":-8.4,"yOffset":2,"y2Offset":2}},
{"mark":{"type":"rect","clip":true,"binSpacing":0,"opacity":0.33,"xOffset":8.4,"x2Offset":8.4,"yOffset":-2,"y2Offset":-2}},
{"mark":{"type":"rect","clip":true,"binSpacing":0,"opacity":0.25,"xOffset":-4.2,"x2Offset":-4.2,"yOffset":-3.5,"y2Offset":-3.5}},
{"mark":{"type":"rect","clip":true,"binSpacing":0,"opacity":0.2,"xOffset":4.2,"x2Offset":4.2,"yOffset":3.5,"y2Offset":3.5}}
]},
{"data":{"name":"thin"},"transform":[{"window":[{"op":"row_number","as":"k"}]}],"mark":{"type":"line","clip":true,"interpolate":"catmull-rom","stroke":"#555","strokeWidth":0.9},
"encoding":{"x":{"field":"x","type":"quantitative","scale":{"domain":[5,34.5],"nice":false,"zero":false},"axis":{"orient":"top","values":[5,10,15,20,25,30],"labels":false,"title":null,"domain":false,"grid":false,"tickColor":"#888","tickSize":8}},
"y":{"field":"y","type":"quantitative","scale":{"domain":[-16.2,-0.67],"nice":false,"zero":false},"axis":{"orient":"right","values":[-5,-10,-15],"labels":false,"title":null,"domain":false,"grid":false,"tickColor":"#888","tickSize":8}},
"detail":{"field":"c"},"order":{"field":"k","type":"quantitative"}}},
{"data":{"name":"thick"},"transform":[{"window":[{"op":"row_number","as":"k"}]}],"mark":{"type":"line","clip":true,"interpolate":"catmull-rom","stroke":"#111","strokeWidth":2.3},
"encoding":{"x":{"field":"x","type":"quantitative","scale":{"domain":[5,34.5],"nice":false,"zero":false},"axis":{"orient":"bottom","values":[5,10,15,20,25,30],"title":"Estaciones","titleFont":"Liberation Serif","titleFontSize":18,"titleFontWeight":"normal","titleColor":"#222","titleX":275,"titleY":31,"labelFont":"Liberation Sans","labelFontSize":13,"labelColor":"#333","labelPadding":3,"labelFlush":false,"domain":false,"grid":false,"tickColor":"#888","tickSize":8,"format":"d"}},
"y":{"field":"y","type":"quantitative","scale":{"domain":[-16.2,-0.67],"nice":false,"zero":false},"axis":{"orient":"left","values":[-5,-10,-15],"title":"Profundidad","titleFont":"Liberation Serif","titleFontSize":14.7,"titleFontWeight":"normal","titleColor":"#222","titlePadding":4,"titleY":58,"labelFont":"Liberation Sans","labelFontSize":13,"labelColor":"#333","labelPadding":1,"labelExpr":"'-' + abs(datum.value)","domain":false,"grid":false,"tickColor":"#888","tickSize":8}},
"detail":{"field":"c"},"order":{"field":"k","type":"quantitative"}}},
{"data":{"name":"labels"},"mark":{"type":"text","font":"Liberation Sans","fontSize":14,"color":"#222"},
"encoding":{"x":{"field":"x","type":"quantitative","scale":{"domain":[5,34.5],"nice":false,"zero":false},"axis":null},"y":{"field":"y","type":"quantitative","scale":{"domain":[-16.2,-0.67],"nice":false,"zero":false},"axis":null},"text":{"field":"t"},"angle":{"field":"a","type":"quantitative","scale":null}}},
{"data":{"values":[{"x":29.12,"y":-22.6,"t":"g"}]},"mark":{"type":"text","font":"DejaVu Sans","fontWeight":"bold","fontSize":44,"color":"#222","baseline":"alphabetic","align":"center"},"encoding":{"x":{"field":"x","type":"quantitative","scale":{"domain":[5,34.5],"nice":false,"zero":false},"axis":null},"y":{"field":"y","type":"quantitative","scale":{"domain":[-16.2,-0.67],"nice":false,"zero":false},"axis":null},"text":{"field":"t"}}},
{"data":{"values":[{"x":29.12,"y":-21.6}]},"mark":{"type":"point","filled":true,"size":170,"color":"#2a7ab0","opacity":1},"encoding":{"x":{"field":"x","type":"quantitative","scale":{"domain":[5,34.5],"nice":false,"zero":false},"axis":null},"y":{"field":"y","type":"quantitative","scale":{"domain":[-16.2,-0.67],"nice":false,"zero":false},"axis":null}}},
{"data":{"values":[{"x":30.02,"y":-22.5,"t":"mas"}]},"mark":{"type":"text","font":"Lato","fontWeight":300,"fontSize":38,"color":"#222","baseline":"alphabetic","align":"left"},"encoding":{"x":{"field":"x","type":"quantitative","scale":{"domain":[5,34.5],"nice":false,"zero":false},"axis":null},"y":{"field":"y","type":"quantitative","scale":{"domain":[-16.2,-0.67],"nice":false,"zero":false},"axis":null},"text":{"field":"t"}}},
{"data":{"values":[{"x":33.63,"y":-21,"t":"+"}]},"mark":{"type":"text","font":"Liberation Sans","fontWeight":"bold","fontSize":25,"color":"#1aa0c8","align":"center"},"encoding":{"x":{"field":"x","type":"quantitative","scale":{"domain":[5,34.5],"nice":false,"zero":false},"axis":null},"y":{"field":"y","type":"quantitative","scale":{"domain":[-16.2,-0.67],"nice":false,"zero":false},"axis":null},"text":{"field":"t"}}},
{"data":{"values":[{"x":32.59,"y":-23.4,"t":"Consultores"}]},"mark":{"type":"text","font":"Liberation Sans","fontWeight":"bold","fontStyle":"italic","fontSize":7.5,"color":"#333","align":"center"},"encoding":{"x":{"field":"x","type":"quantitative","scale":{"domain":[5,34.5],"nice":false,"zero":false},"axis":null},"y":{"field":"y","type":"quantitative","scale":{"domain":[-16.2,-0.67],"nice":false,"zero":false},"axis":null},"text":{"field":"t"}}}
]}
]},
{"width":26,"height":413,"view":{"stroke":"#6f7f6f"},"data":{"name":"bar"},"mark":{"type":"rect","binSpacing":0,"strokeWidth":0.6},
"encoding":{"y":{"field":"v","type":"quantitative","bin":{"step":4,"extent":[262,654],"nice":false},"scale":{"domain":[262,654],"nice":false,"zero":false},"axis":{"orient":"right","values":[280,300,320,340,360,380,400,420,440,460,480,500,520,540,560,580,600,620,640],"title":null,"format":"d","domain":false,"grid":false,"tickColor":"#666","tickSize":6,"labelFont":"Liberation Sans","labelFontSize":14,"labelColor":"#222","labelPadding":4}},
"color":{"field":"v","type":"quantitative","legend":null,"scale":{"domain":[262,285,300,320,335,345,360,380,395,410,425,440,460,480,500,520,540,560,580,600,620,640,654],"range":["#d0d080","#a0cca0","#78c078","#78c078","#a0c090","#b8c080","#e0cc40","#f0cc10","#f5b800","#e8a800","#c4a020","#d4b86a","#e8d5a0","#f8e8c0","#fffdf0","#f0fbf8","#e0f8f8","#c8f2f5","#a0e0ee","#55bde3","#1e9be0","#0a6ee0","#0b4fd6"]}},
"stroke":{"field":"v","type":"quantitative","legend":null,"scale":{"domain":[262,285,300,320,335,345,360,380,395,410,425,440,460,480,500,520,540,560,580,600,620,640,654],"range":["#d0d080","#a0cca0","#78c078","#78c078","#a0c090","#b8c080","#e0cc40","#f0cc10","#f5b800","#e8a800","#c4a020","#d4b86a","#e8d5a0","#f8e8c0","#fffdf0","#f0fbf8","#e0f8f8","#c8f2f5","#a0e0ee","#55bde3","#1e9be0","#0a6ee0","#0b4fd6"]}}}}
]}
